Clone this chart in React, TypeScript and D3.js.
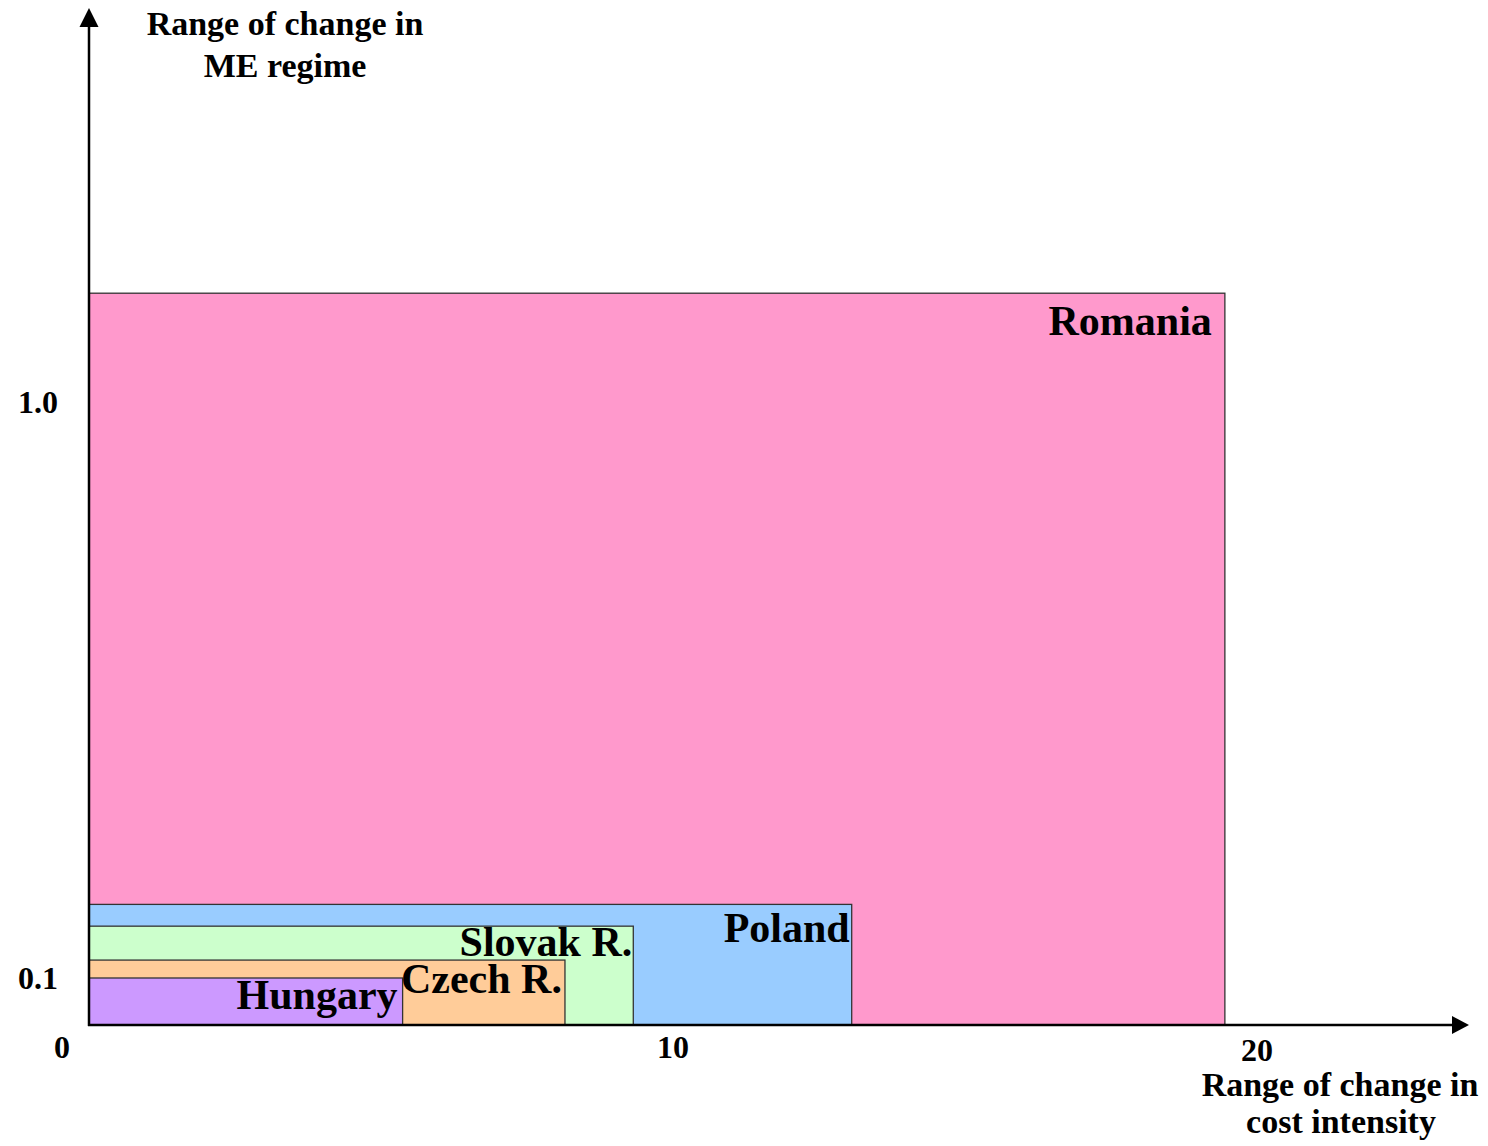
import React, { useEffect, useRef } from 'react';
import * as d3 from 'd3';

// ranges per country (x: cost intensity, y: ME regime)
const countries = ['Romania', 'Poland', 'Slovak R.', 'Czech R.', 'Hungary'];
const costRange = [19.45, 13.06, 9.32, 8.15, 5.37];
const meRange = [1.17, 0.215, 0.181, 0.128, 0.1];
const fills = ['#FF99CC', '#99CCFF', '#CCFFCC', '#FFCC99', '#CC99FF'];

const xTicks = [0, 10, 20];
const yTicks = [0.1, 1.0];

// label placement tweaks (px): right inset, baseline below rect top
const labelInset = [13, 2, 1, 3, 5];
const labelDy = [42, 38, 30, 33, 31];

const W = 1488;
const H = 1146;
const FONT = '"Liberation Serif", "Times New Roman", serif';

export default function App() {
  const svgRef = useRef<SVGSVGElement>(null);

  useEffect(() => {
    if (!svgRef.current) return;
    const svg = d3.select(svgRef.current);
    svg.selectAll('*').remove();

    const x = d3.scaleLinear().domain([0, 20]).range([89, 1257]);
    // chart is not to scale vertically: piecewise axis
    const y = d3.scaleLinear().domain([0, 0.1, 1.0]).range([1025, 978, 402]);

    const data = countries.map((c, i) => ({ name: c, cx: costRange[i], my: meRange[i], fill: fills[i], i }));

    const g = svg.append('g');

    g.selectAll('rect.box')
      .data(data)
      .enter()
      .append('rect')
      .attr('class', 'box')
      .attr('x', x(0))
      .attr('y', d => y(d.my))
      .attr('width', d => x(d.cx) - x(0))
      .attr('height', d => y(0) - y(d.my))
      .attr('fill', d => d.fill)
      .attr('stroke', '#333')
      .attr('stroke-width', 1.3);

    g.selectAll('text.lbl')
      .data(data)
      .enter()
      .append('text')
      .attr('class', 'lbl')
      .attr('x', d => x(d.cx) - labelInset[d.i])
      .attr('y', d => y(d.my) + labelDy[d.i])
      .attr('text-anchor', 'end')
      .attr('font-family', FONT)
      .attr('font-weight', 'bold')
      .attr('font-size', 42)
      .attr('fill', '#000')
      .text(d => d.name);

    // axes with arrow heads
    const x0 = x(0);
    const y0 = y(0);
    svg.append('line')
      .attr('x1', x0).attr('y1', y0 + 1)
      .attr('x2', x0).attr('y2', 24)
      .attr('stroke', '#000').attr('stroke-width', 2.5);
    svg.append('path')
      .attr('d', `M${x0},8 L${x0 - 9.5},27 L${x0 + 9.5},27 Z`)
      .attr('fill', '#000');

    svg.append('line')
      .attr('x1', x0 - 1).attr('y1', y0)
      .attr('x2', 1455).attr('y2', y0)
      .attr('stroke', '#000').attr('stroke-width', 2.5);
    svg.append('path')
      .attr('d', `M1469,${y0} L1452,${y0 - 9} L1452,${y0 + 9} Z`)
      .attr('fill', '#000');

    // tick labels
    svg.selectAll('text.xt')
      .data(xTicks)
      .enter()
      .append('text')
      .attr('class', 'xt')
      .attr('x', d => (d === 0 ? x(d) - 27 : x(d)))
      .attr('y', d => (d === 20 ? 1061 : 1058))
      .attr('text-anchor', 'middle')
      .attr('font-family', FONT)
      .attr('font-weight', 'bold')
      .attr('font-size', 32)
      .text(d => String(d));

    svg.selectAll('text.yt')
      .data(yTicks)
      .enter()
      .append('text')
      .attr('class', 'yt')
      .attr('x', 38)
      .attr('y', d => y(d) + 11)
      .attr('text-anchor', 'middle')
      .attr('font-family', FONT)
      .attr('font-weight', 'bold')
      .attr('font-size', 32)
      .text(d => d.toFixed(1));

    // axis titles
    const yTitle = svg.append('text')
      .attr('font-family', FONT)
      .attr('font-weight', 'bold')
      .attr('font-size', 34)
      .attr('text-anchor', 'middle');
    yTitle.append('tspan').attr('x', 285).attr('y', 35).text('Range of change in');
    yTitle.append('tspan').attr('x', 285).attr('y', 77).text('ME regime');

    const xTitle = svg.append('text')
      .attr('font-family', FONT)
      .attr('font-weight', 'bold')
      .attr('font-size', 34)
      .attr('text-anchor', 'middle');
    xTitle.append('tspan').attr('x', 1340).attr('y', 1096).text('Range of change in');
    xTitle.append('tspan').attr('x', 1341).attr('y', 1133).text('cost intensity');
  }, []);

  return (
    <div style={{ position: 'absolute', left: 0, top: 0, width: W, height: H, background: '#fff' }}>
      <svg ref={svgRef} width={W} height={H} style={{ display: 'block' }}></svg>
    </div>
  );
}
